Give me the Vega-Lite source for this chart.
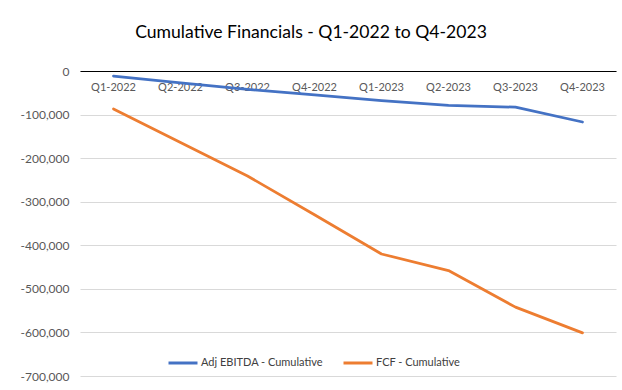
{
  "$schema": "https://vega.github.io/schema/vega-lite/v6.json",
  "autosize": {"type": "none"},
  "width": 536,
  "height": 305,
  "padding": {"left": 80, "top": 71, "right": 6, "bottom": 14},
  "background": "white",
  "title": {
    "text": "Cumulative Financials - Q1-2022 to Q4-2023",
    "font": "Lato",
    "fontSize": 17.6,
    "fontWeight": "normal",
    "color": "#000000",
    "anchor": "middle",
    "dx": -37,
    "offset": 23
  },
  "data": {
    "values": [
      {"quarter": "Q1-2022", "series": "Adj EBITDA - Cumulative", "value": -11500},
      {"quarter": "Q2-2022", "series": "Adj EBITDA - Cumulative", "value": -27000},
      {"quarter": "Q3-2022", "series": "Adj EBITDA - Cumulative", "value": -42000},
      {"quarter": "Q4-2022", "series": "Adj EBITDA - Cumulative", "value": -55000},
      {"quarter": "Q1-2023", "series": "Adj EBITDA - Cumulative", "value": -68000},
      {"quarter": "Q2-2023", "series": "Adj EBITDA - Cumulative", "value": -79000},
      {"quarter": "Q3-2023", "series": "Adj EBITDA - Cumulative", "value": -83000},
      {"quarter": "Q4-2023", "series": "Adj EBITDA - Cumulative", "value": -117000},
      {"quarter": "Q1-2022", "series": "FCF - Cumulative", "value": -87000},
      {"quarter": "Q2-2022", "series": "FCF - Cumulative", "value": -164000},
      {"quarter": "Q3-2022", "series": "FCF - Cumulative", "value": -241000},
      {"quarter": "Q4-2022", "series": "FCF - Cumulative", "value": -330000},
      {"quarter": "Q1-2023", "series": "FCF - Cumulative", "value": -420000},
      {"quarter": "Q2-2023", "series": "FCF - Cumulative", "value": -458000},
      {"quarter": "Q3-2023", "series": "FCF - Cumulative", "value": -542000},
      {"quarter": "Q4-2023", "series": "FCF - Cumulative", "value": -601000}
    ]
  },
  "mark": {"type": "line", "strokeWidth": 2.75, "strokeCap": "round", "strokeJoin": "round"},
  "encoding": {
    "x": {
      "field": "quarter",
      "type": "ordinal",
      "sort": null,
      "scale": {"type": "band", "paddingInner": 0, "paddingOuter": 0},
      "axis": {
        "title": null,
        "orient": "bottom",
        "offset": -305,
        "labelAngle": 0,
        "ticks": false,
        "domainColor": "#000000",
        "domainWidth": 1,
        "labelFont": "Lato",
        "labelFontSize": 11,
        "labelColor": "#595959",
        "labelPadding": 10,
        "grid": false
      }
    },
    "y": {
      "field": "value",
      "type": "quantitative",
      "scale": {"domain": [-700000, 0], "nice": false},
      "axis": {
        "title": null,
        "values": [0, -100000, -200000, -300000, -400000, -500000, -600000, -700000],
        "labelExpr": "replace(format(datum.value, ','), '\u2212', '-')",
        "domain": false,
        "ticks": false,
        "gridColor": "#d9d9d9",
        "gridWidth": 1,
        "labelFont": "Lato",
        "labelFontSize": 12,
        "labelColor": "#595959",
        "labelPadding": 11
      }
    },
    "color": {
      "field": "series",
      "type": "nominal",
      "scale": {"domain": ["Adj EBITDA - Cumulative", "FCF - Cumulative"], "range": ["#4472C4", "#ED7D31"]},
      "legend": {
        "title": null,
        "orient": "none",
        "direction": "horizontal",
        "legendX": 87,
        "legendY": 276,
        "symbolType": "stroke",
        "symbolSize": 841,
        "symbolStrokeWidth": 3,
        "labelFont": "Lato",
        "labelFontSize": 11,
        "labelColor": "#404040",
        "labelOffset": 2,
        "columnPadding": 14
      }
    }
  },
  "config": {"view": {"stroke": null}}
}
